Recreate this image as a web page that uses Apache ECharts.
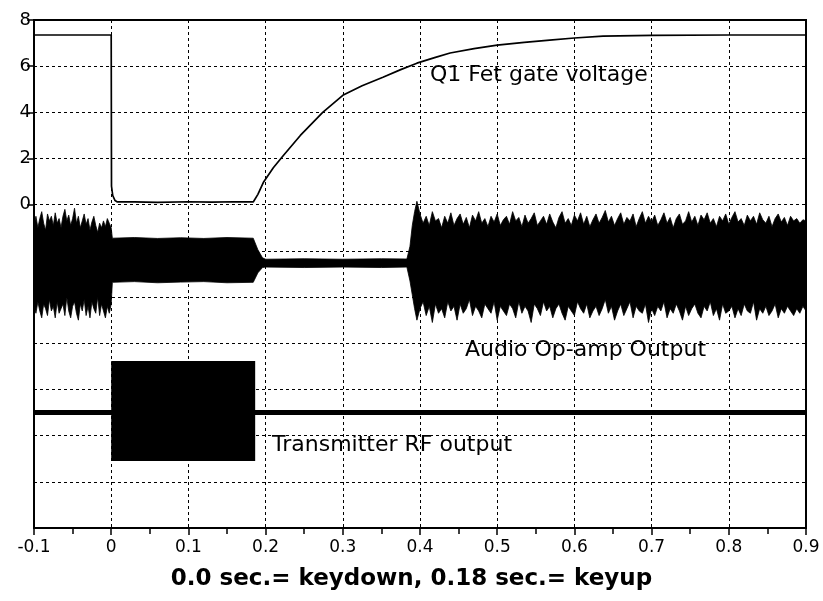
<!DOCTYPE html>
<html>
<head>
<meta charset="utf-8">
<script src="https://cdn.jsdelivr.net/npm/echarts@6/dist/echarts.min.js"></script>
<style>
  html, body { margin: 0; padding: 0; background: #fff; }
  #chart { width: 823px; height: 601px; }
</style>
</head>
<body>
<div id="chart"></div>
<script>
// Time axis (seconds) and the upper voltage scale
const xTicks = [-0.1, 0, 0.1, 0.2, 0.3, 0.4, 0.5, 0.6, 0.7, 0.8, 0.9];
const yTicks = [0, 2, 4, 6, 8];

// Q1 FET gate voltage
const gateT = [-0.1, 0, 0.0004, 0.002, 0.005, 0.008, 0.03, 0.06, 0.1, 0.13, 0.16, 0.184, 0.19, 0.197, 0.21, 0.223, 0.245, 0.274, 0.3, 0.325, 0.352, 0.375, 0.396, 0.42, 0.439, 0.47, 0.5, 0.535, 0.568, 0.6, 0.637, 0.7, 0.8, 0.9];
const gateV = [7.35, 7.35, 0.8, 0.4, 0.18, 0.12, 0.12, 0.1, 0.13, 0.11, 0.13, 0.12, 0.45, 0.96, 1.6, 2.13, 3.0, 4.0, 4.74, 5.15, 5.52, 5.85, 6.13, 6.38, 6.57, 6.76, 6.91, 7.03, 7.13, 7.22, 7.3, 7.33, 7.35, 7.35];

// Audio op-amp output envelope: before keydown (sampled every 2.5 ms)
const audioPreStart = -0.1;
const audioPreStep = 0.0025;
const audioPreHi = [-0.9, -0.5, -1.0, -0.6, -0.3, -0.8, -1.1, -0.4, -0.7, -0.5, -0.9, -0.35, -0.8, -0.6, -1.0, -0.5, -0.2, -0.7, -0.45, -0.9, -0.6, -0.15, -0.8, -0.5, -1.0, -0.7, -0.4, -0.85, -0.6, -1.1, -0.75, -0.5, -0.9, -1.2, -0.8, -1.0, -0.7, -0.95, -0.6, -0.8, -1.0];
const audioPreLo = [-4.4, -4.7, -4.2, -4.6, -4.9, -4.3, -4.5, -4.8, -4.1, -4.6, -4.4, -4.9, -4.2, -4.7, -4.5, -4.3, -4.8, -4.0, -4.6, -4.9, -4.4, -4.2, -4.7, -5.0, -4.3, -4.6, -4.1, -4.8, -4.4, -4.9, -4.2, -4.5, -4.7, -4.0, -4.8, -4.3, -4.6, -4.9, -4.4, -4.7, -4.3];

// Audio envelope while keyed, after keyup, and at the return of audio
const audioMidT = [0.0015, 0.03, 0.06, 0.09, 0.12, 0.15, 0.184, 0.19, 0.196, 0.2, 0.25, 0.3, 0.35, 0.383, 0.387, 0.39, 0.393, 0.396];
const audioMidHi = [-1.45, -1.42, -1.46, -1.43, -1.46, -1.42, -1.45, -1.95, -2.3, -2.36, -2.34, -2.36, -2.34, -2.35, -1.8, -0.9, -0.3, 0.15];
const audioMidLo = [-3.36, -3.33, -3.38, -3.35, -3.33, -3.38, -3.36, -2.95, -2.72, -2.7, -2.72, -2.7, -2.72, -2.7, -3.3, -3.9, -4.5, -5.0];

// Audio envelope after the gate recovers (sampled every 4 ms)
const audioPostStart = 0.4;
const audioPostStep = 0.004;
const audioPostHi = [
  -0.4, -0.8, -0.5, -0.9, -0.3, -0.7, -0.6, -1.0, -0.5, -0.8,
  -0.35, -0.9, -0.6, -0.4, -0.85, -0.55, -1.0, -0.45, -0.7, -0.3,
  -0.8, -0.6, -0.95, -0.5, -0.75, -0.4, -0.9, -0.65, -0.5, -0.85,
  -0.3, -0.7, -0.55, -0.95, -0.45, -0.8, -0.6, -0.35, -0.9, -0.7,
  -0.5, -0.85, -0.4, -0.75, -1.0, -0.55, -0.3, -0.8, -0.6, -0.9,
  -0.45, -0.7, -0.35, -0.85, -0.5, -0.95, -0.65, -0.4, -0.8, -0.55,
  -0.25, -0.75, -0.5, -0.9, -0.6, -0.35, -0.85, -0.55, -0.7, -0.4,
  -0.95, -0.6, -0.3, -0.8, -0.5, -0.75, -0.45, -0.9, -0.65, -0.35,
  -0.8, -0.55, -1.0, -0.6, -0.4, -0.85, -0.7, -0.3, -0.75, -0.5,
  -0.9, -0.45, -0.65, -0.35, -0.8, -0.6, -0.95, -0.5, -0.7, -0.4,
  -0.85, -0.55, -0.3, -0.75, -0.6, -0.9, -0.45, -0.7, -0.5, -0.85,
  -0.35, -0.65, -0.8, -0.5, -0.95, -0.6, -0.4, -0.75, -0.55, -0.9,
  -0.5, -0.7, -0.6, -0.8, -0.65, -0.7
];
const audioPostLo = [
  -4.5, -4.2, -4.8, -4.4, -5.1, -4.3, -4.7, -4.5, -4.9, -4.2,
  -4.6, -4.4, -5.0, -4.3, -4.7, -4.5, -4.1, -4.8, -4.4, -4.6,
  -4.9, -4.3, -4.5, -4.7, -4.2, -5.0, -4.4, -4.6, -4.8, -4.3,
  -4.5, -4.9, -4.2, -4.7, -4.4, -4.6, -5.1, -4.3, -4.5, -4.8,
  -4.2, -4.6, -4.4, -4.9, -4.5, -4.3, -4.7, -5.0, -4.4, -4.6,
  -4.8, -4.2, -4.5, -4.7, -4.3, -4.9, -4.6, -4.4, -4.8, -4.5,
  -4.1, -4.7, -4.4, -5.0, -4.6, -4.3, -4.8, -4.5, -4.2, -4.9,
  -4.4, -4.6, -4.7, -4.3, -5.1, -4.5, -4.8, -4.4, -4.6, -4.2,
  -4.9, -4.5, -4.7, -4.3, -4.6, -5.0, -4.4, -4.8, -4.5, -4.3,
  -4.7, -4.9, -4.4, -4.6, -4.2, -4.8, -4.5, -5.0, -4.3, -4.7,
  -4.6, -4.4, -4.9, -4.5, -4.8, -4.3, -4.6, -4.7, -4.2, -5.0,
  -4.5, -4.7, -4.4, -4.8, -4.6, -4.3, -4.9, -4.5, -4.7, -4.4,
  -4.6, -4.8, -4.5, -4.7, -4.4, -4.6
];

// Transmitter RF output: idle level and the keyed burst [start, end, top, bottom]
const rfLevel = -9.0;
const rfBurst = [0, 0.1865, -6.77, -11.1];

// Annotations
const labels = ['Q1 Fet gate voltage', 'Audio Op-amp Output', 'Transmitter RF output'];
const xTitle = '0.0 sec.= keydown, 0.18 sec.= keyup';

// Assemble the audio envelope as (t, hi, lo) samples
const audioEnv = [];
audioPreHi.forEach((h, i) => audioEnv.push([audioPreStart + i * audioPreStep, h, audioPreLo[i]]));
audioMidT.forEach((t, i) => audioEnv.push([t, audioMidHi[i], audioMidLo[i]]));
audioPostHi.forEach((h, i) => audioEnv.push([audioPostStart + i * audioPostStep, h, audioPostLo[i]]));

const gateData = gateT.map((t, i) => [t, gateV[i]]);

const chart = echarts.init(document.getElementById('chart'), null, { renderer: 'canvas' });
const baseFont = 'DejaVu Sans';
const xMin = xTicks[0], xMax = xTicks[xTicks.length - 1];

const option = {
  animation: false,
  backgroundColor: '#fff',
  grid: [
    { left: 34, right: 17, top: 20, bottom: 73, show: true, borderColor: '#000', borderWidth: 2 },
    { left: 34, right: 17, top: 20, height: 184.73 }
  ],
  xAxis: [
    {
      type: 'value', gridIndex: 0, min: xMin, max: xMax, interval: 0.1,
      axisLine: { show: true, onZero: false, lineStyle: { color: '#000', width: 2 } },
      axisTick: { show: true, length: 7, lineStyle: { color: '#000', width: 1.5 } },
      minorTick: { show: true, splitNumber: 2, length: 6, lineStyle: { color: '#000', width: 1.5 } },
      axisLabel: {
        color: '#000', fontFamily: baseFont, fontSize: 17, margin: 11,
        formatter: v => String(Math.round(v * 10) / 10)
      },
      splitLine: { show: true, lineStyle: { color: '#000', width: 1, type: [3, 3] } }
    },
    { type: 'value', gridIndex: 1, min: xMin, max: xMax, show: false }
  ],
  yAxis: [
    {
      type: 'value', gridIndex: 0, min: -14, max: 8, interval: 2,
      axisLine: { show: true, onZero: false, lineStyle: { color: '#000', width: 2 } },
      axisTick: { show: false },
      axisLabel: { show: false },
      splitLine: { show: true, lineStyle: { color: '#000', width: 1, type: [3, 3] } }
    },
    {
      type: 'value', gridIndex: 1, min: yTicks[0], max: yTicks[yTicks.length - 1], interval: 2,
      axisLine: { show: false, onZero: false },
      axisTick: { show: true, length: 7, lineStyle: { color: '#000', width: 1.5 } },
      axisLabel: { color: '#000', fontFamily: baseFont, fontSize: 18, margin: 3 },
      splitLine: { show: false }
    }
  ],
  series: [
    {
      name: 'Audio Op-amp Output', type: 'custom', xAxisIndex: 0, yAxisIndex: 0,
      data: [0],
      renderItem: (params, api) => {
        const pts = [];
        audioEnv.forEach(s => pts.push(api.coord([s[0], s[1]])));
        for (let i = audioEnv.length - 1; i >= 0; i--) pts.push(api.coord([audioEnv[i][0], audioEnv[i][2]]));
        return { type: 'polygon', shape: { points: pts }, style: { fill: '#000', stroke: '#000', lineWidth: 0.8 } };
      },
      z: 3
    },
    {
      name: 'Transmitter RF idle', type: 'line', xAxisIndex: 0, yAxisIndex: 0,
      data: [[xMin, rfLevel], [xMax, rfLevel]],
      showSymbol: false, lineStyle: { color: '#000', width: 5 }, z: 3
    },
    {
      name: 'Transmitter RF output', type: 'custom', xAxisIndex: 0, yAxisIndex: 0,
      data: [rfBurst],
      renderItem: (params, api) => {
        const p1 = api.coord([api.value(0), api.value(2)]);
        const p2 = api.coord([api.value(1), api.value(3)]);
        return { type: 'rect', shape: { x: p1[0], y: p1[1], width: p2[0] - p1[0], height: p2[1] - p1[1] }, style: { fill: '#000' } };
      },
      encode: { x: [0, 1], y: [2, 3] },
      z: 4
    },
    {
      name: 'Q1 Fet gate voltage', type: 'line', xAxisIndex: 0, yAxisIndex: 0,
      data: gateData, showSymbol: false,
      lineStyle: { color: '#000', width: 1.7 }, z: 5
    },
    { type: 'line', xAxisIndex: 1, yAxisIndex: 1, data: [], silent: true }
  ],
  graphic: [
    { type: 'text', left: 430, top: 64, style: { text: labels[0], font: '22px "DejaVu Sans"', fill: '#000' }, z: 10 },
    { type: 'text', left: 465, top: 339, style: { text: labels[1], font: '22px "DejaVu Sans"', fill: '#000' }, z: 10 },
    { type: 'text', left: 272, top: 434, style: { text: labels[2], font: '22px "DejaVu Sans"', fill: '#000' }, z: 10 },
    { type: 'text', left: 'center', top: 568, style: { text: xTitle, font: 'bold 23px "DejaVu Sans"', fill: '#000' }, z: 10 }
  ]
};

chart.setOption(option);
</script>
</body>
</html>
